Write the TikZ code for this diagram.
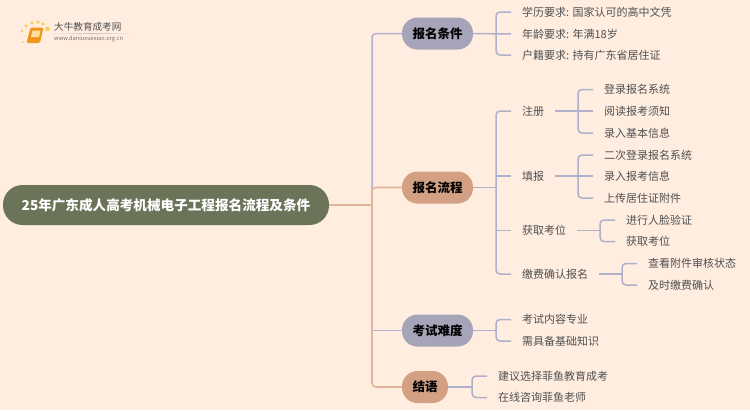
\documentclass[tikz,border=0pt]{standalone}
\usepackage{fontspec}
\setmainfont{Noto Sans CJK SC}
\begin{document}
\begin{tikzpicture}[x=1pt, y=1pt,
        rootnode/.style={shape=rectangle, rounded corners=19.5pt, fill=Rootcolor, text=white, font=\bfseries\fontsize{13.6}{14}\selectfont, minimum width=326pt, minimum height=40pt, inner sep=0pt},
        mainnode/.style={shape=rectangle, rounded corners=15.5pt, minimum height=32pt, inner sep=0pt, text=black, font=\bfseries\fontsize{12.5}{13}\selectfont},
        leaf/.style={anchor=west, inner xsep=11pt, inner ysep=2pt, text=Leafcolor, font=\fontsize{11}{11}\selectfont},
        lav/.style={draw=Lavcolor, line width=1.5pt, rounded corners=4pt},
        ora/.style={draw=Oracolor, line width=1.6pt, rounded corners=4pt}]
    \definecolor{Bgcolor}{RGB}{255, 237, 224}
    \definecolor{Rootcolor}{RGB}{107, 115, 88}
    \definecolor{Lavfill}{RGB}{165, 164, 184}
    \definecolor{Orafill}{RGB}{211, 160, 132}
    \definecolor{Lavcolor}{RGB}{176, 176, 202}
    \definecolor{Oracolor}{RGB}{226, 180, 155}
    \definecolor{Leafcolor}{RGB}{80, 80, 80}
    \definecolor{Logoorange}{RGB}{240, 150, 30}
    \definecolor{Logoyellow}{RGB}{250, 205, 90}
    \fill[Bgcolor] (0, 0) rectangle (750, -410);
    \useasboundingbox (0, 0) rectangle (750, -410);
    % logo
    \foreach \px/\py/\pr in {23/-42/1, 22/-31/1.3, 26/-26/1.6, 32/-23/1.9, 38/-22/1.9, 43/-24/1.9, 47.5/-29/2.2} {
        \fill[Logoyellow] (\px, \py) circle (\pr);
    }
    \fill[Logoorange, rounded corners=1.5pt] (30.5, -27.5) -- (43.5, -27.5) -- (40, -43) -- (26.5, -43) -- cycle;
    \fill[Logoyellow!60!white] (32.5, -30.5) -- (40.5, -30.5) -- (39, -37) -- (31, -37) -- cycle;
    \fill[Rootcolor!30, left color=Bgcolor, right color=Bgcolor, middle color=Leafcolor!35] (52, -33.2) rectangle (132, -33.8);
    \node[anchor=west, inner sep=0pt, text=Leafcolor, font=\fontsize{9.6}{10}\selectfont] (logotext) at (54, -27) {大牛教育成考网};
    \node[anchor=west, inner sep=0pt, text=Leafcolor!80, font=\fontsize{5.7}{6}\selectfont] (logourl) at (54, -39) {www.daniuxuexiao.org.cn};
    % root and main branches
    \node[rootnode] (root) at (166, -205) {25年广东成人高考机械电子工程报名流程及条件};
    \node[mainnode, fill=Lavfill, minimum width=71pt] (cond) at (437.5, -33.5) {报名条件};
    \node[mainnode, fill=Orafill, minimum width=71pt] (flow) at (437.5, -187.5) {报名流程};
    \node[mainnode, fill=Lavfill, minimum width=71pt] (diff) at (437.5, -330.5) {考试难度};
    \node[mainnode, fill=Orafill, minimum width=46pt] (end) at (425, -387) {结语};
    \coordinate (trunk) at (372, -205);
    \draw[lav] (trunk) |- (cond.west);
    \draw[lav] (trunk |- diff.west) -- (diff.west);
    \draw[ora] (root.east) -- (trunk);
    \draw[ora] (trunk) |- (flow.west);
    \draw[ora] (trunk) |- (end.west);
    % condition items
    \node[leaf] (c1) at (511, -12) {学历要求: 国家认可的高中文凭};
    \node[leaf] (c2) at (511, -34) {年龄要求: 年满18岁};
    \node[leaf] (c3) at (511, -55) {户籍要求: 持有广东省居住证};
    \coordinate (cb) at (496, -33.5);
    \draw[lav] (cond.east) -- (c2.west);
    \draw[lav] (cb) |- (c1.west);
    \draw[lav] (cb) |- (c3.west);
    % flow items
    \node[leaf] (f1) at (511, -111) {注册};
    \node[leaf] (f2) at (511, -176) {填报};
    \node[leaf] (f3) at (511, -230.5) {获取考位};
    \node[leaf] (f4) at (511, -274) {缴费确认报名};
    \coordinate (fb) at (496, -187.5);
    \draw[lav] (flow.east) -- (fb);
    \draw[lav] (fb) |- (f1.west);
    \draw[lav] (fb |- f2.west) -- (f2.west);
    \draw[lav] (fb |- f3.west) -- (f3.west);
    \draw[lav] (fb) |- (f4.west);
    % register
    \node[leaf] (r1) at (593, -89.5) {登录报名系统};
    \node[leaf] (r2) at (593, -111) {阅读报考须知};
    \node[leaf] (r3) at (593, -133) {录入基本信息};
    \coordinate (rb) at (578, -111);
    \draw[lav] (f1.east) -- (r2.west);
    \draw[lav] (rb) |- (r1.west);
    \draw[lav] (rb) |- (r3.west);
    % fill in
    \node[leaf] (t1) at (593, -155) {二次登录报名系统};
    \node[leaf] (t2) at (593, -176) {录入报考信息};
    \node[leaf] (t3) at (593, -198) {上传居住证附件};
    \coordinate (tb) at (578, -176);
    \draw[lav] (f2.east) -- (t2.west);
    \draw[lav] (tb) |- (t1.west);
    \draw[lav] (tb) |- (t3.west);
    % seat
    \node[leaf] (s1) at (615, -220) {进行人脸验证};
    \node[leaf] (s2) at (615, -241.5) {获取考位};
    \coordinate (sb) at (600, -230.5);
    \draw[lav] (f3.east) -- (sb);
    \draw[lav] (sb) |- (s1.west);
    \draw[lav] (sb) |- (s2.west);
    % payment
    \node[leaf] (p1) at (637, -263.5) {查看附件审核状态};
    \node[leaf] (p2) at (637, -285) {及时缴费确认};
    \coordinate (pb) at (622, -274);
    \draw[lav] (f4.east) -- (pb);
    \draw[lav] (pb) |- (p1.west);
    \draw[lav] (pb) |- (p2.west);
    % difficulty
    \node[leaf] (d1) at (511, -319.5) {考试内容专业};
    \node[leaf] (d2) at (511, -341) {需具备基础知识};
    \coordinate (db) at (496, -330.5);
    \draw[lav] (diff.east) -- (db);
    \draw[lav] (db) |- (d1.west);
    \draw[lav] (db) |- (d2.west);
    % closing
    \node[leaf] (e1) at (487, -376) {建议选择菲鱼教育成考};
    \node[leaf] (e2) at (487, -397.5) {在线咨询菲鱼老师};
    \coordinate (eb) at (472, -387);
    \draw[lav] (end.east) -- (eb);
    \draw[lav] (eb) |- (e1.west);
    \draw[lav] (eb) |- (e2.west);
\end{tikzpicture}
\end{document}
